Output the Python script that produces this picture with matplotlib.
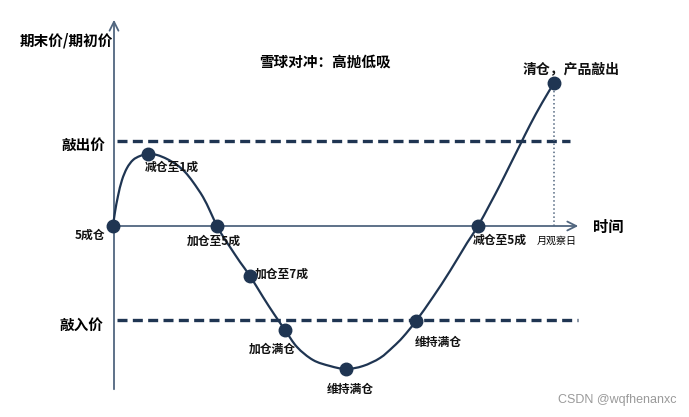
import matplotlib
matplotlib.use("Agg")
import matplotlib.pyplot as plt
from matplotlib.path import Path
from matplotlib.patches import PathPatch

plt.rcParams['font.family'] = ['Noto Sans CJK SC', 'DejaVu Sans']

# price path (time units / price units, origin = start point on the axes)
curve_t = [-1, 1, 4, 8, 13, 19, 26, 34, 43, 53, 63, 71, 79, 89, 96, 103, 110, 116, 126, 136,
           149, 160, 171, 183, 199, 216, 232, 249, 266, 279, 289, 302, 319, 336, 353, 364,
           376, 386, 396, 406, 416, 428, 440]
curve_p = [0, 14, 30, 46, 58, 66, 70, 72, 71, 67, 61, 54, 44, 29, 15, 0, -12, -21, -36, -50,
           -71, -88, -104, -121, -134, -140, -143, -140, -132, -121, -111, -95, -71, -45, -17, 0,
           22, 41, 61, 81, 101, 123, 143]

# milestones on the path
point_t = [-1, 34, 103, 136, 171, 232, 302, 364, 440]
point_p = [0, 72, 0, -50, -104, -143, -95, 0, 143]
point_labels = ['5成仓', '减仓至1成', '加仓至5成', '加仓至7成', '加仓满仓',
                '维持满仓', '维持满仓', '减仓至5成', '清仓，产品敲出']

knock_out = 85
knock_in = -94
observe_t = 440

navy = '#1f3552'
axis_c = '#51667f'

fig = plt.figure(figsize=(6.89, 4.17), dpi=100)
ax = fig.add_axes([0, 0, 1, 1])
ax.set_xlim(-114, 575)
ax.set_ylim(-191, 226)
ax.axis('off')

# axes with open arrows
ax.annotate('', xy=(0, 209), xytext=(0, -166),
            arrowprops=dict(arrowstyle='->', color=axis_c, lw=1.3, mutation_scale=16))
ax.annotate('', xy=(467, 0), xytext=(0, 0),
            arrowprops=dict(arrowstyle='->', color=axis_c, lw=1.3, mutation_scale=16))

# barriers
ax.plot([3, 456], [knock_out, knock_out], color=navy, lw=2.4, dashes=(3, 1.6))
ax.plot([3, 464], [knock_in, knock_in], color=navy, lw=2.4, dashes=(3, 1.6))

# observation day
ax.plot([observe_t, observe_t], [0, point_p[-1]], color=axis_c, lw=1.1, ls=':')

# smooth path through the read points (catmull-rom as bezier segments)
pts = list(zip(curve_t, curve_p))
verts = [pts[0]]
codes = [Path.MOVETO]
for i in range(len(pts) - 1):
    p0 = pts[max(i - 1, 0)]
    p1 = pts[i]
    p2 = pts[i + 1]
    p3 = pts[min(i + 2, len(pts) - 1)]
    c1 = (p1[0] + (p2[0] - p0[0]) / 6, p1[1] + (p2[1] - p0[1]) / 6)
    c2 = (p2[0] - (p3[0] - p1[0]) / 6, p2[1] - (p3[1] - p1[1]) / 6)
    verts += [c1, c2, p2]
    codes += [Path.CURVE4] * 3
ax.add_patch(PathPatch(Path(verts, codes), fill=False, edgecolor=navy, lw=1.6, zorder=3))

ax.plot(point_t, point_p, 'o', color=navy, ms=9, zorder=4)

# label offsets in pixels from each marker
offsets = [(-8, -9), (24, -13), (-3, -15), (5, 2), (-13, -19), (4, -20), (22, -21), (22, -14), (17, 14)]
aligns = ['right', 'center', 'center', 'left', 'center', 'center', 'center', 'center', 'center']
for t, p, lab, off, ha in zip(point_t, point_p, point_labels, offsets, aligns):
    size = 10 if lab.startswith('清仓') else 8.5
    ax.annotate(lab, (t, p), xytext=off, textcoords='offset pixels', ha=ha, va='center',
                fontsize=size, fontweight='bold', color='#111111')

W, H = 689, 417
fig.text(20 / W, 1 - 41 / H, '期末价/期初价', fontsize=10.5, fontweight='bold', va='center', ha='left')
fig.text(325 / W, 1 - 62 / H, '雪球对冲：高抛低吸', fontsize=10.5, fontweight='bold', va='center', ha='center')
fig.text(105 / W, 1 - 145 / H, '敲出价', fontsize=10.5, fontweight='bold', va='center', ha='right')
fig.text(103 / W, 1 - 325 / H, '敲入价', fontsize=10.5, fontweight='bold', va='center', ha='right')
fig.text(593 / W, 1 - 227 / H, '时间', fontsize=11, fontweight='bold', va='center', ha='left')
fig.text(557 / W, 1 - 241 / H, '月观察日', fontsize=7.2, va='center', ha='center')
fig.text(677 / W, 1 - 400 / H, 'CSDN @wqfhenanxc', fontsize=9, color='#9a9a9a',
         family='Liberation Sans', va='center', ha='right')

fig.savefig('out.png', dpi=100)
